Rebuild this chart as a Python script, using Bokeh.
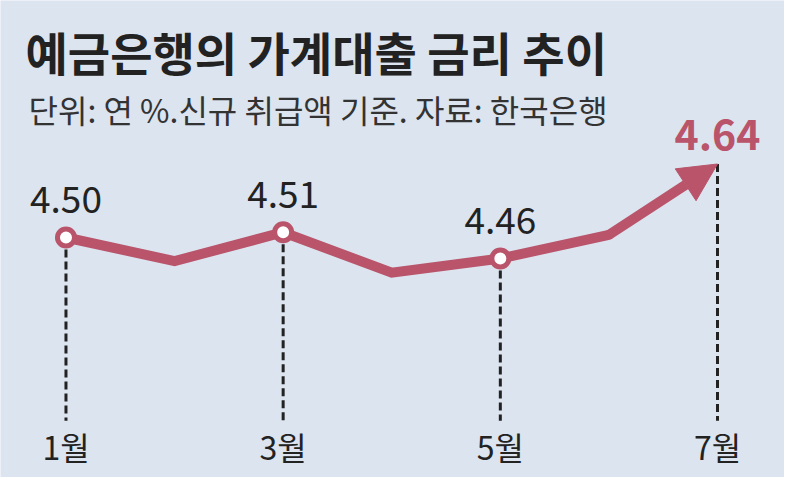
from bokeh.core.properties import value
from bokeh.embed import file_html
from bokeh.models import Arrow, Label, NormalHead, Range1d
from bokeh.plotting import figure
from bokeh.resources import INLINE

# household loan rate of deposit banks, % per year (new loans)
months = [1, 2, 3, 4, 5, 6, 7]
rates = [4.50, 4.455, 4.51, 4.433, 4.46, 4.505, 4.64]
# months that get a marker + value label
marked_months = [1, 3, 5]
# months with a dashed guide and a label at the bottom
tick_months = [1, 3, 5, 7]
month_labels = ["1월", "3월", "5월", "7월"]

title = "예금은행의 가계대출 금리 추이"
subtitle = "단위: 연 %.신규 취급액 기준. 자료: 한국은행"

BG = "#dce4ef"
RED = "#b9546a"
INK = "#222222"
FONT = "Noto Sans CJK KR"
W, H = 784, 477
DASH_BOTTOM = 4.151  # where the dashed guides stop

marked_rates = [rates[m - 1] for m in marked_months]
tick_rates = [rates[m - 1] for m in tick_months]

p = figure(width=W, height=H, output_backend="svg", toolbar_location=None,
           x_range=Range1d(0.397, 7.617), y_range=Range1d(4.0429, 4.9514),
           x_axis_location=None, y_axis_location=None, min_border=0,
           background_fill_color=BG, border_fill_color=BG, outline_line_color=None)
p.grid.grid_line_color = None

# dashed guides from the points down to the month labels
p.segment(x0=tick_months, y0=tick_rates, x1=tick_months, y1=[DASH_BOTTOM] * len(tick_months),
          line_color=INK, line_width=3, line_dash="8 4")

# the line itself, the last step is an arrow
p.line(months[:-1], rates[:-1], line_color=RED, line_width=10,
       line_join="miter", line_cap="round")
p.add_layout(Arrow(end=NormalHead(size=38, fill_color=RED, line_color=RED),
                   x_start=months[-2], y_start=rates[-2],
                   x_end=months[-1], y_end=rates[-1],
                   line_color=RED, line_width=10))

p.scatter(marked_months, marked_rates, size=17, fill_color="white",
          line_color=RED, line_width=5)

# value labels
p.text(marked_months, marked_rates, text=[f"{r:.2f}" for r in marked_rates],
       text_align="center", text_baseline="middle", y_offset=-38,
       text_font=value(FONT), text_font_size="37px", text_color=INK)
p.text([months[-1]], [rates[-1]], text=[f"{rates[-1]:.2f}"],
       text_align="center", text_baseline="middle", y_offset=-29,
       text_font=value(FONT), text_font_style="bold",
       text_font_size="41px", text_color=RED)

# month labels
p.text(tick_months, [DASH_BOTTOM] * len(tick_months), text=month_labels,
       text_align="center", text_baseline="middle", y_offset=25,
       text_font=value(FONT), text_font_size="32px", text_color=INK)

# title + subtitle
p.add_layout(Label(x=25, y=H - 50, x_units="screen", y_units="screen", text=title,
                   text_font=FONT, text_font_style="bold",
                   text_font_size="46px", text_color=INK, text_baseline="middle"))
p.add_layout(Label(x=28, y=H - 108, x_units="screen", y_units="screen", text=subtitle,
                   text_font=FONT, text_font_size="32px",
                   text_color="#333333", text_baseline="middle"))

open("out.html", "w").write(file_html(p, INLINE))
